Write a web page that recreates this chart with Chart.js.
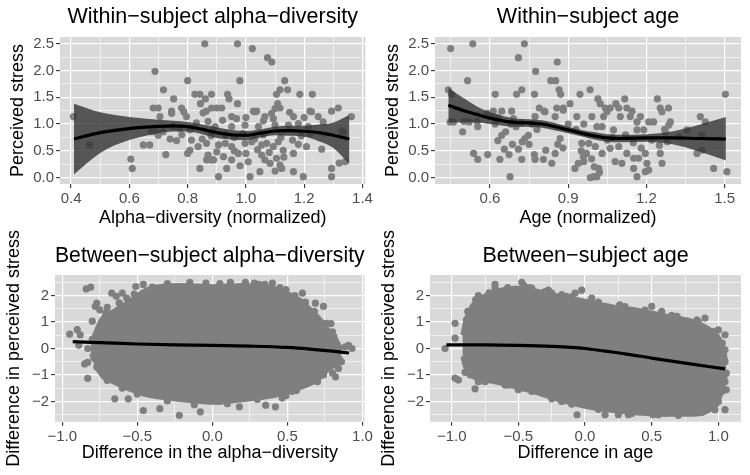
<!DOCTYPE html>
<html>
<head>
<meta charset="utf-8">
<script src="https://cdn.jsdelivr.net/npm/chart.js@4.4.1/dist/chart.umd.min.js"></script>
<style>
body { margin: 0; background: #fff; }
#wrap { position: relative; width: 750px; height: 475px; overflow: hidden; }
canvas { position: absolute; }
</style>
</head>
<body>
<div id="wrap">
<canvas id="tl" width="375" height="235" style="left:0;top:0"></canvas>
<canvas id="tr" width="375" height="235" style="left:375px;top:0"></canvas>
<canvas id="bl" width="375" height="260" style="left:0;top:215px"></canvas>
<canvas id="br" width="375" height="260" style="left:375px;top:215px"></canvas>
</div>
<script>
const MINUS = '\u2212';

// ---- within-subject alpha-diversity ----
const tlPoints = [
  [0.859,2.5],[0.688,1.985],[0.80,1.81],[0.717,1.64],[0.752,1.47],[0.825,1.555],[0.842,1.555],[0.882,1.555],
  [0.861,1.47],[0.844,1.38],[0.882,1.30],[0.682,1.30],[0.699,1.30],[0.745,1.24],[0.779,1.30],[0.864,1.24],
  [0.971,2.5],[1.022,2.41],[1.074,2.24],[1.089,2.16],[0.979,1.81],[1.133,1.81],[1.117,1.64],[1.143,1.64],
  [1.105,1.555],[1.185,1.555],[1.228,1.555],[0.937,1.555],[0.942,1.47],[0.971,1.38],[1.109,1.38],[1.117,1.30],
  [1.10,1.29],[0.90,1.30],[0.917,1.30],[1.317,1.30],[1.22,1.24],[1.294,1.24],[1.026,1.24],[1.037,1.24],
  [0.408,1.14],[0.463,0.61],[0.605,0.346],[0.61,0.17],[0.648,0.61],[0.67,0.61],[0.725,0.43],[0.762,0.69],
  [0.705,1.14],[0.745,1.2],[0.787,1.23],[0.796,1.14],[0.853,1.21],[0.676,0.856],[0.693,0.856],[0.716,0.856],
  [0.699,0.79],[0.75,0.95],[0.773,0.92],[0.808,0.89],[0.813,0.70],[0.808,0.51],[0.80,0.45],[0.836,0.576],
  [0.865,0.64],[0.87,0.42],[0.865,0.33],[0.882,0.33],[0.842,0.17],[0.951,1.14],[0.968,1.1],[1.031,1.23],
  [1.065,1.14],[1.088,1.2],[1.094,1.1],[1.163,1.14],[1.225,1.23],[1.248,1.14],[1.265,1.04],[1.362,1.14],
  [0.894,0.95],[0.951,0.95],[0.997,0.98],[1.043,0.95],[1.10,0.98],[1.146,0.98],[1.18,1.01],[1.214,0.95],
  [1.334,0.856],[0.906,0.61],[0.929,0.64],[0.951,0.576],[0.997,0.64],[1.02,0.67],[1.054,0.61],[1.071,0.64],
  [1.094,0.576],[1.111,0.67],[1.128,0.51],[1.163,0.45],[1.208,0.576],[1.26,0.53],[0.889,0.33],[0.923,0.39],
  [0.951,0.33],[0.974,0.45],[1.008,0.295],[1.054,0.42],[1.065,0.33],[1.083,0.265],[1.105,0.36],[1.117,0.23],
  [0.934,0.17],[0.906,0.015],[1.014,0.015],[1.048,0.11],[1.123,0.17],[1.163,0.11],[1.197,0.015],[1.294,0.17],
  [1.294,0.015],[1.34,0.295],[1.32,0.27],[1.33,0.87],
  [0.93,0.8],[0.96,0.75],[0.99,0.82],[1.03,0.72],[1.06,0.8],[1.12,0.75],[1.16,0.7],[1.19,0.78],
  [1.22,0.82],[0.88,0.78],[0.85,0.72],[0.9,0.48],[0.96,0.5],[1.0,0.45],[1.04,0.52],[1.08,0.47],
  [1.13,0.38],[1.18,0.62],[0.98,0.22],[1.1,0.12],[0.87,1.05],[0.92,1.07],[1.0,1.12],[1.06,1.06],
  [1.15,1.22],[1.2,1.12],[0.83,1.02],[0.78,0.8],[0.74,0.72]
];
const tlSmoothX = [0.41,0.5,0.6,0.7,0.75,0.8,0.85,0.9,0.95,1.0,1.05,1.1,1.15,1.2,1.25,1.3,1.355];
const tlFit     = [0.72,0.84,0.915,0.955,0.965,0.95,0.9,0.84,0.8,0.79,0.83,0.87,0.875,0.865,0.84,0.79,0.72];
const tlUpper   = [1.38,1.22,1.13,1.08,1.06,1.04,0.99,0.94,0.89,0.87,0.9,0.95,0.97,0.97,0.99,1.03,1.17];
const tlLower   = [0.06,0.46,0.70,0.83,0.86,0.86,0.81,0.74,0.71,0.70,0.75,0.79,0.78,0.76,0.68,0.55,0.25];

// ---- within-subject age ----
const trPoints = [
  [0.449,2.41],[0.534,2.5],[0.732,2.5],[0.709,2.24],[0.858,2.16],[0.775,1.985],[0.514,1.81],[0.833,1.81],
  [0.852,1.81],[0.865,1.64],[0.871,1.555],[0.44,1.64],[0.722,1.64],[0.702,1.555],[0.62,1.555],[0.771,1.555],
  [0.945,1.555],[0.984,1.64],[0.907,1.38],[0.789,1.30],[0.808,1.24],[0.856,1.30],[0.881,1.30],[0.613,1.24],
  [0.645,1.24],[0.683,1.24],[0.453,1.555],[1.014,1.47],[1.023,1.38],[1.042,1.30],[1.061,1.30],[1.083,1.38],
  [1.094,1.30],[1.117,1.47],[1.125,1.30],[1.145,1.24],[1.242,1.47],[1.253,1.30],[1.285,1.30],[1.503,1.555],
  [0.447,1.04],[0.46,1.04],[0.495,0.856],[0.52,1.04],[0.553,0.95],[0.537,0.45],[0.553,0.34],[0.591,0.43],
  [0.63,0.69],[0.645,0.79],[0.66,0.856],[0.655,0.53],[0.673,0.43],[0.686,0.62],[0.709,0.53],[0.724,0.67],
  [0.734,0.73],[0.747,0.79],[0.75,0.62],[0.638,0.34],[0.722,0.34],[0.677,0.015],[0.77,0.43],[0.773,0.34],
  [0.814,0.51],[0.805,0.34],[0.837,0.265],[0.86,0.62],[0.869,0.73],[0.773,1.14],[0.811,1.23],[0.85,1.14],
  [0.881,1.26],[0.933,1.14],[0.952,0.64],[0.958,0.39],[0.939,0.265],[0.926,0.17],[0.991,1.14],[1.036,1.14],
  [1.049,1.23],[1.10,1.14],[1.138,1.14],[1.164,1.04],[1.177,1.14],[1.209,1.04],[1.228,1.04],[1.26,1.23],
  [1.286,0.98],[1.292,1.04],[1.407,1.14],[1.426,1.04],[1.01,0.95],[1.03,0.95],[1.074,0.89],[1.164,0.89],
  [1.19,0.89],[1.273,0.856],[1.28,0.67],[1.324,0.76],[1.356,0.89],[1.413,0.79],[0.979,0.64],[1.004,0.576],
  [1.061,0.545],[1.094,0.576],[1.125,0.45],[1.106,0.265],[1.151,0.36],[1.17,0.36],[1.151,0.17],[1.196,0.45],
  [1.202,0.265],[1.196,0.11],[1.209,0.14],[1.253,0.45],[1.26,0.265],[1.164,0.015],[0.998,0.015],[1.01,0.015],
  [1.017,0.17],[1.394,0.45],[1.413,0.51],[1.458,0.17],[1.509,0.11],
  [0.59,1.2],[0.605,1.17],[0.63,1.12],[0.55,1.05],[0.5,1.05],[0.62,1.0],[0.68,1.0],[0.7,0.95],
  [0.95,0.5],[0.97,0.45],[0.99,0.35],[1.0,0.2],[1.02,0.1],[0.96,0.3],[1.03,0.45],[0.985,0.0],
  [1.08,0.3],[1.12,0.8],[1.15,0.65],[1.18,0.55],[1.22,0.7],[1.25,0.6],[1.27,0.9],[0.9,1.0],
  [0.93,0.9],[0.96,1.0],[1.05,0.7],[1.07,0.75],[0.88,0.55],[0.85,0.45],[0.78,0.9],[0.76,1.0],
  [0.72,1.02],[0.69,1.1]
];
const trSmoothX = [0.44,0.5,0.55,0.6,0.65,0.7,0.75,0.8,0.85,0.9,0.95,1.0,1.05,1.1,1.2,1.3,1.4,1.505];
const trFit     = [1.35,1.25,1.18,1.11,1.06,1.03,1.02,1.0,0.95,0.89,0.83,0.78,0.74,0.73,0.74,0.74,0.73,0.72];
const trUpper   = [1.68,1.48,1.33,1.22,1.15,1.1,1.09,1.07,1.02,0.95,0.89,0.85,0.81,0.8,0.81,0.86,0.98,1.13];
const trLower   = [1.03,1.03,1.03,1.0,0.97,0.95,0.95,0.93,0.88,0.83,0.77,0.71,0.67,0.66,0.67,0.62,0.49,0.32];

// ---- between-subject alpha-diversity ----
// dense core of the cloud: upper and lower edge
const blCloudX   = [-0.81,-0.78,-0.74,-0.65,-0.55,-0.45,-0.35,-0.2,0,0.2,0.4,0.5,0.58,0.65,0.72,0.78,0.83,0.86];
const blCloudUp  = [0.15,0.6,1.1,1.45,1.8,2.2,2.35,2.4,2.35,2.4,2.3,2.1,1.85,1.5,1.1,0.65,0.3,-0.05];
const blCloudLow = [-0.2,-0.5,-1.0,-1.3,-1.55,-1.75,-1.85,-1.95,-2.05,-1.95,-1.8,-1.65,-1.5,-1.35,-1.1,-0.75,-0.6,-0.3];
const blPoints = [
  [-0.95,0.54],[-0.9,0.71],[-0.88,0.52],[-0.84,2.25],[-0.81,2.32],[-0.78,1.59],[-0.77,1.71],[-0.8,1.03],
  [-0.89,0.12],[-0.83,0.0],[-0.85,-0.58],[-0.83,-0.52],[-0.83,-1.13],[-0.77,-0.7],[-0.75,-0.82],[-0.65,-1.9],
  [-0.56,-1.9],[-0.46,-2.34],[-0.35,-2.27],[-0.22,-2.52],[-0.08,-2.39],[0.045,-2.0],[0.18,-2.2],[0.355,-2.14],
  [0.42,-2.2],[0.49,-1.78],[0.53,-1.62],[0.465,-1.87],[0.64,-1.25],[0.67,-1.12],[0.74,-1.0],[0.775,-0.69],
  [0.81,-0.56],[0.86,-0.5],[0.84,-0.75],[0.82,-1.07],[0.885,0.06],[0.907,0.12],[0.93,0.0],[0.8,0.63],
  [0.79,0.94],[0.686,1.71],[0.74,1.59],[0.6,2.09],[0.54,1.9],[0.4,2.47],[0.49,2.22],[0.28,2.47],
  [0.31,2.42],[-0.043,2.47],[-0.51,2.34],[-0.46,2.42],[-0.6,2.09],[-0.67,2.09],[-0.64,1.97],[-0.75,1.46],
  [-0.71,1.34],[-0.51,1.97],[-0.57,1.9],
  [-0.7,1.55],[-0.62,1.72],[-0.52,2.05],[-0.4,2.32],[-0.3,2.45],[-0.15,2.5],[0.05,2.45],[0.12,2.5],
  [0.22,2.5],[0.35,2.42],[0.45,2.3],[0.55,2.0],[0.62,1.75],[0.68,1.4],[0.76,0.95],[0.81,0.45],
  [-0.7,-1.2],[-0.6,-1.5],[-0.5,-1.72],[-0.3,-1.98],[-0.12,-2.12],[0.1,-2.08],[0.3,-1.92],[0.56,-1.58],
  [0.7,-1.25],[0.8,-0.92],[-0.79,-0.35],[-0.8,0.35]
];
const blFitX = [-0.93,-0.7,-0.5,-0.25,0,0.25,0.5,0.65,0.8,0.91];
const blFit  = [0.26,0.21,0.17,0.14,0.12,0.09,0.04,-0.02,-0.1,-0.17];

// ---- between-subject age ----
const brCloudX   = [-0.92,-0.9,-0.85,-0.75,-0.65,-0.5,-0.38,-0.2,0,0.2,0.4,0.6,0.8,0.93,1.0,1.04,1.06];
const brCloudUp  = [0.5,1.0,1.6,2.0,2.2,2.3,2.2,2.0,1.8,1.6,1.45,1.25,1.05,0.75,0.45,0.0,-0.5];
const brCloudLow = [-0.3,-0.7,-1.05,-1.2,-1.3,-1.5,-1.65,-1.95,-2.2,-2.35,-2.45,-2.5,-2.5,-2.35,-2.0,-1.4,-0.9];
const brPoints = [
  [-1.05,0.0],[-0.975,0.95],[-0.975,0.39],[-0.975,-1.12],[-0.95,-1.19],[-0.875,-0.81],[-0.86,-1.0],[-0.825,-1.52],
  [-0.8,-1.25],[-0.89,1.08],[-0.875,0.64],[-0.8,2.0],[-0.675,2.28],[-0.64,2.15],[-0.6,2.03],[-0.675,2.42],
  [-0.475,2.5],[-0.46,2.38],[-0.4,2.28],[-0.275,2.2],[-0.25,2.09],[-0.175,2.03],[-0.14,1.97],[-0.075,2.09],
  [-0.025,2.2],[0.05,1.9],[0.26,1.65],[0.5,1.59],[0.575,1.4],[0.69,1.21],[0.775,0.95],[0.84,1.08],
  [0.9,1.15],[0.96,0.64],[1.0,0.7],[1.05,0.52],[1.05,-0.05],[1.06,-0.93],[1.05,-1.25],[1.06,-1.56],
  [0.975,-1.75],[1.0,-2.0],[1.05,-2.31],[0.975,-2.31],[0.925,-2.25],[0.775,-2.38],[0.6,-2.44],[0.51,-2.5],
  [0.325,-2.5],[0.25,-2.5],[0.15,-2.5],[-0.06,-2.5],[-0.175,-2.0],[-0.5,-1.56],[-0.575,-1.38],
  [-0.88,1.4],[-0.82,1.85],[-0.72,2.1],[-0.58,2.3],[-0.42,2.3],[-0.3,2.15],[-0.1,1.95],[0.1,1.75],
  [0.3,1.58],[0.45,1.45],[0.65,1.25],[0.85,1.0],[0.97,0.6],[1.03,0.2],[1.05,-0.5],[-0.9,-0.9],
  [-0.75,-1.25],[-0.6,-1.38],[-0.4,-1.62],[-0.25,-1.9],[-0.1,-2.1],[0.1,-2.3],[0.35,-2.45],[0.55,-2.5],
  [0.7,-2.52],[0.88,-2.4],[0.98,-2.1],[1.03,-1.6],[1.04,-1.0]
];
const brFitX = [-1.04,-0.75,-0.5,-0.25,0,0.15,0.3,0.5,0.75,1.05];
const brFit  = [0.14,0.14,0.12,0.08,0.0,-0.1,-0.2,-0.36,-0.55,-0.77];

// ---- axes ----
const stressTicks = [0, 0.5, 1, 1.5, 2, 2.5];
const stressLabels = ['0.0','0.5','1.0','1.5','2.0','2.5'];
const stressMinor = [0.25, 0.75, 1.25, 1.75, 2.25];
const alphaTicks = [0.4, 0.6, 0.8, 1.0, 1.2, 1.4];
const alphaLabels = ['0.4','0.6','0.8','1.0','1.2','1.4'];
const alphaMinor = [0.5, 0.7, 0.9, 1.1, 1.3];
const ageTicks = [0.6, 0.9, 1.2, 1.5];
const ageLabels = ['0.6','0.9','1.2','1.5'];
const ageMinor = [0.45, 0.75, 1.05, 1.35];
const diffXTicks = [-1, -0.5, 0, 0.5, 1];
const diffXLabels = [MINUS + '1.0', MINUS + '0.5', '0.0', '0.5', '1.0'];
const diffXMinor = [-0.75, -0.25, 0.25, 0.75];
const diffYTicks = [-2, -1, 0, 1, 2];
const diffYLabels = [MINUS + '2', MINUS + '1', '0', '1', '2'];
const diffYMinor = [-2.5, -1.5, -0.5, 0.5, 1.5, 2.5];

const POINT = '#7F7F7F';
const PANEL = '#D9D9D9';
Chart.defaults.font.family = '"Liberation Sans", Arial, Helvetica, sans-serif';

const panelBg = {
  id: 'panelBg',
  beforeDraw(chart) {
    const a = chart.chartArea, c = chart.ctx;
    c.save();
    c.fillStyle = PANEL;
    c.fillRect(a.left, a.top, a.right - a.left, a.bottom - a.top);
    c.restore();
  }
};

function xy(xs, ys) {
  return xs.map((x, i) => ({x: x, y: ys[i]}));
}

function axis(o) {
  const isMaj = v => o.major.some(m => Math.abs(m - v) < 1e-9);
  return {
    type: 'linear',
    position: o.position,
    min: o.min,
    max: o.max,
    afterBuildTicks: s => {
      s.ticks = o.major.concat(o.minor).sort((a, b) => a - b).map(v => ({value: v}));
    },
    afterFit: s => {
      if (o.position === 'left') s.width = o.size; else s.height = o.size;
    },
    border: {display: false},
    grid: {
      color: '#FFFFFF',
      lineWidth: c => isMaj(c.tick.value) ? 1.2 : 0.6,
      tickLength: 4,
      tickWidth: 1.1,
      tickColor: c => isMaj(c.tick.value) ? '#333333' : 'rgba(0,0,0,0)'
    },
    ticks: {
      autoSkip: false,
      maxRotation: 0,
      padding: 2,
      color: '#4D4D4D',
      font: {size: 15},
      callback: v => {
        const i = o.major.findIndex(m => Math.abs(m - v) < 1e-9);
        return i < 0 ? '' : o.labels[i];
      }
    },
    title: {
      display: true,
      text: o.title,
      color: '#000000',
      font: {size: 18},
      padding: o.titlePad
    }
  };
}

function makePanel(id, p) {
  const datasets = [{
    data: xy(p.fitX, p.fit),
    borderColor: '#000000',
    borderWidth: 3.2,
    pointRadius: 0,
    cubicInterpolationMode: 'monotone',
    fill: false
  }];
  if (p.upper) {
    datasets.push({
      data: xy(p.fitX, p.upper),
      borderWidth: 0,
      pointRadius: 0,
      cubicInterpolationMode: 'monotone',
      backgroundColor: 'rgba(51,51,51,0.8)',
      fill: '+1'
    }, {
      data: xy(p.fitX, p.lower),
      borderWidth: 0,
      pointRadius: 0,
      cubicInterpolationMode: 'monotone',
      fill: false
    });
  }
  datasets.push({
    data: p.points.map(d => ({x: d[0], y: d[1]})),
    showLine: false,
    pointRadius: 3.6,
    pointBorderWidth: 0,
    pointBackgroundColor: POINT
  });
  if (p.cloudX) {
    datasets.push({
      data: xy(p.cloudX, p.cloudUp),
      borderColor: POINT,
      borderWidth: 4,
      pointRadius: 0,
      cubicInterpolationMode: 'monotone',
      backgroundColor: POINT,
      fill: '+1'
    }, {
      data: xy(p.cloudX, p.cloudLow),
      borderColor: POINT,
      borderWidth: 4,
      pointRadius: 0,
      cubicInterpolationMode: 'monotone',
      fill: false
    });
  }
  return new Chart(document.getElementById(id), {
    type: 'line',
    data: {datasets: datasets},
    options: {
      responsive: false,
      animation: false,
      events: [],
      layout: {padding: {left: 0, right: 9, top: 0, bottom: 0}},
      scales: {x: p.x, y: p.y},
      plugins: {
        legend: {display: false},
        tooltip: {enabled: false},
        title: {
          display: true,
          fullSize: false,
          text: p.title,
          color: '#000000',
          font: {size: 21.5, weight: 'normal'},
          padding: p.titlePad
        }
      }
    },
    plugins: [panelBg]
  });
}

makePanel('tl', {
  title: 'Within\u2212subject alpha\u2212diversity',
  titlePad: {top: 4, bottom: 7.2},
  points: tlPoints, fitX: tlSmoothX, fit: tlFit, upper: tlUpper, lower: tlLower,
  x: axis({position: 'bottom', min: 0.362, max: 1.41, major: alphaTicks, labels: alphaLabels, minor: alphaMinor,
           size: 51, title: 'Alpha\u2212diversity (normalized)', titlePad: {top: 0, bottom: 6}}),
  y: axis({position: 'left', min: -0.121, max: 2.627, major: stressTicks, labels: stressLabels, minor: stressMinor,
           size: 60, title: 'Perceived stress', titlePad: {top: 7, bottom: 0}})
});

makePanel('tr', {
  title: 'Within\u2212subject age',
  titlePad: {top: 4, bottom: 7.2},
  points: trPoints, fitX: trSmoothX, fit: trFit, upper: trUpper, lower: trLower,
  x: axis({position: 'bottom', min: 0.389, max: 1.563, major: ageTicks, labels: ageLabels, minor: ageMinor,
           size: 51, title: 'Age (normalized)', titlePad: {top: 0, bottom: 6}}),
  y: axis({position: 'left', min: -0.121, max: 2.627, major: stressTicks, labels: stressLabels, minor: stressMinor,
           size: 60, title: 'Perceived stress', titlePad: {top: 7, bottom: 0}})
});

makePanel('bl', {
  title: 'Between\u2212subject alpha\u2212diversity',
  titlePad: {top: 28, bottom: 6.2},
  points: blPoints, fitX: blFitX, fit: blFit,
  cloudX: blCloudX, cloudUp: blCloudUp, cloudLow: blCloudLow,
  x: axis({position: 'bottom', min: -1.048, max: 1.014, major: diffXTicks, labels: diffXLabels, minor: diffXMinor,
           size: 53.3, title: 'Difference in the alpha\u2212diversity', titlePad: {top: 0, bottom: 11}}),
  y: axis({position: 'left', min: -2.762, max: 2.774, major: diffYTicks, labels: diffYLabels, minor: diffYMinor,
           size: 55, title: 'Difference in perceived stress', titlePad: {top: 3, bottom: 0}})
});

makePanel('br', {
  title: 'Between\u2212subject age',
  titlePad: {top: 28, bottom: 6.2},
  points: brPoints, fitX: brFitX, fit: brFit,
  cloudX: brCloudX, cloudUp: brCloudUp, cloudLow: brCloudLow,
  x: axis({position: 'bottom', min: -1.163, max: 1.17, major: diffXTicks, labels: diffXLabels, minor: diffXMinor,
           size: 53.3, title: 'Difference in age', titlePad: {top: 0, bottom: 11}}),
  y: axis({position: 'left', min: -2.762, max: 2.774, major: diffYTicks, labels: diffYLabels, minor: diffYMinor,
           size: 55, title: 'Difference in perceived stress', titlePad: {top: 3, bottom: 0}})
});
</script>
</body>
</html>
